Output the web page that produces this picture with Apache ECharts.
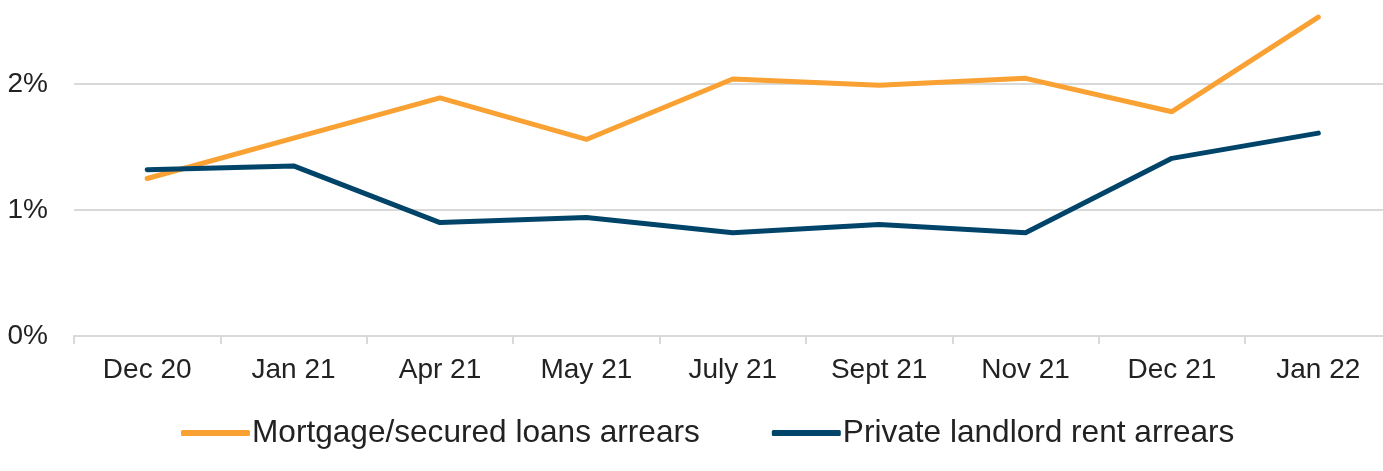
<!DOCTYPE html>
<html>
<head>
<meta charset="utf-8">
<script src="https://cdn.jsdelivr.net/npm/echarts@6/dist/echarts.min.js"></script>
<style>
html,body{margin:0;padding:0;background:#fff;}
#chart{width:1383px;height:471px;}
</style>
</head>
<body>
<div id="chart"></div>
<script>
const categories = ['Dec 20','Jan 21','Apr 21','May 21','July 21','Sept 21','Nov 21','Dec 21','Jan 22'];
const mortgageArrears = [1.25, 1.57, 1.89, 1.56, 2.04, 1.99, 2.045, 1.78, 2.53];
const rentArrears = [1.32, 1.35, 0.90, 0.94, 0.82, 0.885, 0.82, 1.41, 1.61];
const seriesNames = ['Mortgage/secured loans arrears', 'Private landlord rent arrears'];
const yTicks = [0, 1, 2];

const chart = echarts.init(document.getElementById('chart'), null, {renderer: 'canvas'});
chart.setOption({
  animation: false,
  backgroundColor: '#ffffff',
  textStyle: {fontFamily: 'Liberation Sans, Arial, sans-serif'},
  grid: {left: 74, width: 1317.5, top: 0, height: 336, containLabel: false, outerBoundsMode: 'none'},
  legend: {
    left: 176, top: 412,
    itemWidth: 69, itemHeight: 6, itemGap: 72,
    icon: 'roundRect',
    textStyle: {fontSize: 31.6, color: '#222222', padding: [0,0,0,-3], fontFamily: 'Liberation Sans, Arial, sans-serif'},
    data: seriesNames
  },
  xAxis: {
    type: 'category',
    data: categories,
    boundaryGap: true,
    axisLine: {show: true, lineStyle: {color: '#d9d9d9', width: 2}},
    axisTick: {show: true, length: 8, lineStyle: {color: '#d9d9d9', width: 2}},
    axisLabel: {fontSize: 28, color: '#222222', margin: 20, fontFamily: 'Liberation Sans, Arial, sans-serif'}
  },
  yAxis: {
    type: 'value',
    min: 0, max: 336 / 126, interval: 1,
    axisLine: {show: false},
    axisTick: {show: false},
    splitLine: {show: true, showMaxLine: false, lineStyle: {color: '#d9d9d9', width: 2}},
    axisLabel: {fontSize: 28, color: '#222222', margin: 26, showMaxLabel: false,
      formatter: v => (yTicks.indexOf(v) >= 0 ? v + '%' : ''),
      fontFamily: 'Liberation Sans, Arial, sans-serif'}
  },
  series: [
    {
      name: seriesNames[0], type: 'line', data: mortgageArrears,
      symbol: 'none', color: '#F9A132',
      lineStyle: {width: 5, color: '#F9A132', cap: 'round'}
    },
    {
      name: seriesNames[1], type: 'line', data: rentArrears,
      symbol: 'none', color: '#00446A',
      lineStyle: {width: 5, color: '#00446A', cap: 'round'}
    }
  ]
});
</script>
</body>
</html>
